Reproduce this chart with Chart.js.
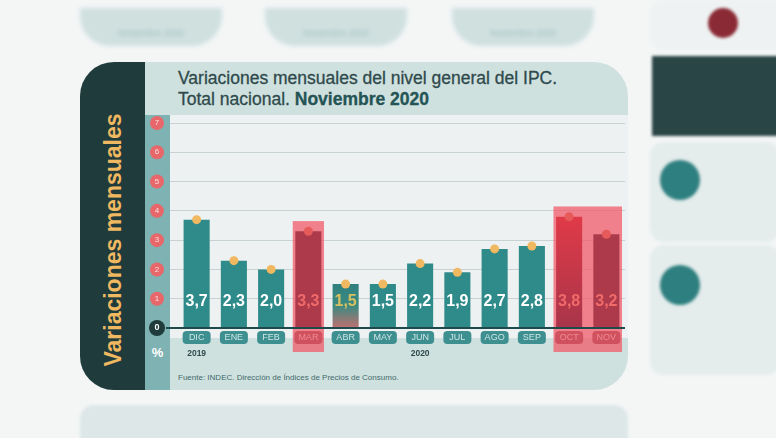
<!DOCTYPE html>
<html><head><meta charset="utf-8">
<script src="https://cdn.jsdelivr.net/npm/chart.js@4"></script>
<style>
body{margin:0;width:776px;height:438px;background:#f4f6f6;position:relative;overflow:hidden;font-family:"Liberation Sans",Arial,sans-serif}
.pill{position:absolute;top:8px;height:38px;background:#cfe0df;border-radius:0 0 30px 30px;filter:blur(2px)}
.pill span{display:block;text-align:center;margin-top:20px;font-size:9px;color:#9fbcbc}
#card{position:absolute;left:80px;top:62px;width:548px;height:328px;background:#cfe1df;border-radius:34px;overflow:hidden}
#strip{position:absolute;left:0;top:0;width:65px;height:328px;background:#1f3b3c}
#vt{position:absolute;left:33px;top:178px;width:max-content;transform:translate(-50%,-50%) rotate(-90deg);white-space:nowrap;color:#f0b860;font-weight:bold;font-size:23px}
#title{position:absolute;left:98px;top:6px;font-size:17.5px;color:#2f4a4c;line-height:21px;-webkit-text-stroke:0.3px #2f4a4c}
#title b{color:#1f5758}
#src{position:absolute;left:98px;top:311px;font-size:8px;color:#3f6a6a}
#plotbg{position:absolute;left:90px;top:53px;width:458px;height:223px;background:#edf1f1}
#col{position:absolute;left:65px;top:53px;width:25px;height:275px;background:#7fb2b2}
#pct{position:absolute;left:65px;top:283px;width:25px;text-align:center;font-weight:bold;color:#fff;font-size:13px}
#wrap{position:absolute;left:145px;top:112px;width:482px;height:250px}
.rp{position:absolute;left:650px;background:#e4ecec;border-radius:14px;filter:blur(1.5px)}
</style></head><body>
<div class="pill" style="left:80px;width:142px"><span>Noviembre 2020</span></div>
<div class="pill" style="left:265px;width:142px"><span>Noviembre 2020</span></div>
<div class="pill" style="left:452px;width:142px"><span>Noviembre 2020</span></div>
<div class="rp" style="top:0;width:140px;height:50px;background:#eef2f2"></div>
<div style="position:absolute;left:652px;top:56px;width:130px;height:80px;background:#2a4546;filter:blur(1.5px)"></div>
<div class="rp" style="top:142px;width:130px;height:100px"></div>
<div class="rp" style="top:245px;width:130px;height:130px"></div>
<div style="position:absolute;left:660px;top:160px;width:40px;height:40px;border-radius:50%;background:#2e7f7f;filter:blur(1.5px)"></div>
<div style="position:absolute;left:660px;top:265px;width:40px;height:40px;border-radius:50%;background:#2e7f7f;filter:blur(1.5px)"></div>
<div style="position:absolute;left:708px;top:8px;width:30px;height:30px;border-radius:50%;background:#8a2a35;filter:blur(1.5px)"></div>
<div class="rp" style="left:80px;top:405px;width:548px;height:60px;background:#dde7e7"></div>
<div id="card">
  <div id="strip"><div id="vt">Variaciones mensuales</div></div>
  <div id="title">Variaciones mensuales del nivel general del IPC.<br>Total nacional. <b>Noviembre 2020</b></div>
  <div id="plotbg"></div>
  <div id="col"></div>
  <div id="pct">%</div>
  <div id="src">Fuente: INDEC. Dirección de Índices de Precios de Consumo.</div>
</div>
<div id="wrap"><canvas id="c"></canvas></div>
<script>
const months=["DIC","ENE","FEB","MAR","ABR","MAY","JUN","JUL","AGO","SEP","OCT","NOV"];
const values=[3.7,2.3,2.0,3.3,1.5,1.5,2.2,1.9,2.7,2.8,3.8,3.2];
const years=[{i:0,t:"2019"},{i:6,t:"2020"}];
const highlights=[[3,3],[10,11]];
const yTicks=[1,2,3,4,5,6,7];
const teal="#2f8a8a",red="#ad3a4b";
const colorFor=(ctx)=>{const i=ctx.dataIndex;const ch=ctx.chart;const a=ch.chartArea;if(!a)return teal;
 if(i===4){const g=ch.ctx.createLinearGradient(0,ch.scales.y.getPixelForValue(1.5),0,a.bottom);g.addColorStop(0,"#2f7f7f");g.addColorStop(0.5,"#3c8a80");g.addColorStop(1,"#c07070");return g;}
 if(i===10){const g=ch.ctx.createLinearGradient(0,ch.scales.y.getPixelForValue(3.8),0,a.bottom);g.addColorStop(0,"#e03a48");g.addColorStop(1,"#a8354a");return g;}
 if(i===3||i===11)return red;return teal;};
const deco={id:'deco',
 beforeDatasetsDraw(ch){const c=ch.ctx,x=ch.scales.x,y=ch.scales.y;const w=x.getPixelForValue(1)-x.getPixelForValue(0);
  c.save();c.fillStyle="rgba(240,90,105,0.75)";
  highlights.forEach(([a,b])=>{const l=x.getPixelForValue(a)-w*0.5+3,r=x.getPixelForValue(b)+w*0.5-3;const top=y.getPixelForValue(Math.max(...values.slice(a,b+1))+0.35);c.fillRect(l,top,r-l,ch.chartArea.bottom+24-top);});
  c.restore();},
 afterDatasetsDraw(ch){const c=ch.ctx,x=ch.scales.x,y=ch.scales.y,a=ch.chartArea;c.save();
  c.strokeStyle="#1f4a4c";c.lineWidth=2;c.beginPath();c.moveTo(a.left-12,a.bottom);c.lineTo(a.right,a.bottom);c.stroke();
  c.textAlign="center";c.textBaseline="middle";
  yTicks.forEach(t=>{const py=y.getPixelForValue(t);c.fillStyle="#e8676a";c.beginPath();c.arc(12,py,7,0,7);c.fill();c.fillStyle="#fbe0e0";c.font="8px Liberation Sans";c.fillText(t,12,py);});
  c.fillStyle="#1f3b3c";c.beginPath();c.arc(12,a.bottom,8,0,7);c.fill();c.fillStyle="#fff";c.font="bold 9px Liberation Sans";c.fillText("0",12,a.bottom);
  values.forEach((v,i)=>{const px=x.getPixelForValue(i),py=y.getPixelForValue(v);
   c.fillStyle=(i===3||i>=10)?"#e65a5a":"#f0b860";c.beginPath();c.arc(px,py,4.5,0,7);c.fill();
   c.font="bold 16px Liberation Sans";c.fillStyle=(i===3||i>=10)?"#f06a6a":(i===4?"#d8c060":"#fff");c.fillText(v.toFixed(1).replace(".",","),px,a.bottom-26);
   const hl=(i===3||i>=10);c.fillStyle=hl?"rgba(200,70,85,0.8)":"#3d8f90";
   c.beginPath();c.roundRect(px-14,a.bottom+3,28,13,4);c.fill();
   c.fillStyle=hl?"#f08a90":"#cfe6e6";c.font="9px Liberation Sans";c.fillText(months[i],px,a.bottom+10);});
  c.fillStyle="#2f4a4c";c.font="bold 8.5px Liberation Sans";
  years.forEach(o=>c.fillText(o.t,x.getPixelForValue(o.i),a.bottom+26));
  c.restore();}};
new Chart(document.getElementById('c'),{type:'bar',
 data:{labels:months,datasets:[{data:values,backgroundColor:colorFor,barPercentage:0.7,categoryPercentage:1}]},
 options:{responsive:true,maintainAspectRatio:false,animation:false,
  layout:{padding:{left:25,top:11,bottom:34,right:2}},
  plugins:{legend:{display:false},tooltip:{enabled:false}},
  scales:{x:{display:false},y:{min:0,max:7,ticks:{display:false,stepSize:1},border:{display:false},grid:{color:"#c9d2d2",lineWidth:1}}}},
 plugins:[deco]});
</script></body></html>
